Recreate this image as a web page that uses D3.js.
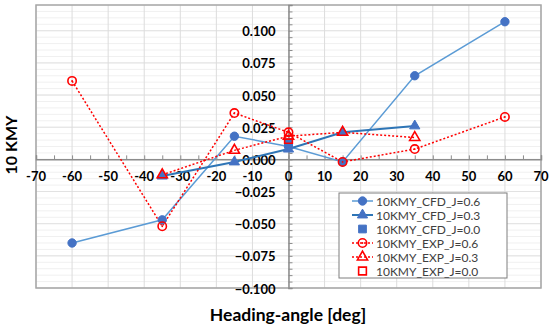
<!DOCTYPE html>
<html>
<head>
<meta charset="utf-8">
<script src="https://cdn.jsdelivr.net/npm/d3@7"></script>
<style>
  body { margin: 0; background: #fff; }
  svg { display: block; font-family: Lato, "Open Sans", sans-serif; }
</style>
</head>
<body>
<svg id="chart"></svg>
<script>
// heading angles used by each series
const anglesFull = [-60, -35, -15, 0, 15, 35, 60];
const anglesShort = [-35, -15, 0, 15, 35];
const anglesZero = [0];

// 10 KMY values
const cfd06 = [-0.065, -0.047, 0.018, 0.010, -0.002, 0.065, 0.107];
const cfd03 = [-0.013, -0.002, 0.008, 0.021, 0.026];
const cfd00 = [0.013];
const exp06 = [0.061, -0.052, 0.036, 0.021, -0.002, 0.008, 0.033];
const exp03 = [-0.012, 0.007, 0.018, 0.021, 0.017];
const exp00 = [0.0155];

const xTicks = d3.range(-70, 71, 10);
const yTicks = d3.range(-0.1, 0.1001, 0.025);

const width = 550, height = 327;
const plot = { left: 36, top: 5, right: 541, bottom: 288 };

const svg = d3.select("#chart").attr("width", width).attr("height", height);

const x = d3.scaleLinear().domain([-70, 70]).range([plot.left, plot.right]);
const y = d3.scaleLinear().domain([-0.1, 0.12]).range([plot.bottom, plot.top]);

// gridlines
const grid = svg.append("g");
grid.selectAll(".minor")
  .data(d3.range(-0.1, 0.1201, 0.005))
  .enter().append("line")
  .attr("x1", plot.left).attr("x2", plot.right)
  .attr("y1", d => y(d)).attr("y2", d => y(d))
  .attr("stroke", "#f0f0f0").attr("stroke-width", 1);
grid.selectAll(".majorY")
  .data(yTicks)
  .enter().append("line")
  .attr("x1", plot.left).attr("x2", plot.right)
  .attr("y1", d => y(d)).attr("y2", d => y(d))
  .attr("stroke", "#e2e2e2").attr("stroke-width", 1);
grid.selectAll(".majorX")
  .data(xTicks)
  .enter().append("line")
  .attr("y1", plot.top).attr("y2", plot.bottom)
  .attr("x1", d => x(d)).attr("x2", d => x(d))
  .attr("stroke", "#dcdcdc").attr("stroke-width", 1);

// plot border
svg.append("rect")
  .attr("x", plot.left).attr("y", plot.top)
  .attr("width", plot.right - plot.left).attr("height", plot.bottom - plot.top)
  .attr("fill", "none").attr("stroke", "#a6a6a6").attr("stroke-width", 1.5);

// axes crossing at zero
const xAxis = svg.append("g")
  .attr("transform", `translate(0,${y(0)})`)
  .call(d3.axisTop(x).tickValues(d3.range(-70, 71, 5)).tickSize(4).tickFormat(""));
const yAxis = svg.append("g")
  .attr("transform", `translate(${x(0)},0)`)
  .call(d3.axisRight(y).tickValues(d3.range(-0.1, 0.1201, 0.005)).tickSize(4).tickFormat(""));
[xAxis, yAxis].forEach(a => {
  a.select(".domain").attr("stroke", "#8c8c8c").attr("stroke-width", 1.5);
  a.selectAll(".tick line").attr("stroke", "#8c8c8c");
});

// tick labels
svg.append("g").selectAll("text")
  .data(xTicks)
  .enter().append("text")
  .attr("x", d => x(d)).attr("y", y(0) + 22)
  .attr("text-anchor", "middle")
  .attr("font-size", 13).attr("font-weight", "bold").attr("fill", "#000")
  .text(d => d);
svg.append("g").selectAll("text")
  .data(yTicks)
  .enter().append("text")
  .attr("x", x(0) - 13).attr("y", d => y(d) + 5.5)
  .attr("text-anchor", "end")
  .attr("font-size", 13).attr("font-weight", "bold").attr("fill", "#000")
  .text(d => d3.format(".3f")(Math.abs(d) < 1e-9 ? 0 : d));

// axis titles
svg.append("text")
  .attr("transform", `translate(17,145) rotate(-90)`)
  .attr("text-anchor", "middle")
  .attr("font-size", 16).attr("font-weight", "bold")
  .text("10 KMY");
svg.append("text")
  .attr("x", 288).attr("y", 321)
  .attr("text-anchor", "middle")
  .attr("font-size", 17.5).attr("font-weight", "bold")
  .text("Heading-angle [deg]");

const blue = "#4472c4", red = "#ff0000";

const series = [
  { name: "10KMY_CFD_J=0.6", xs: anglesFull, ys: cfd06, line: "#5b9bd5", lw: 1.5, dash: null, marker: "circle", fill: blue, stroke: blue },
  { name: "10KMY_CFD_J=0.3", xs: anglesShort, ys: cfd03, line: "#2e75b6", lw: 2, dash: null, marker: "triangle", fill: blue, stroke: blue },
  { name: "10KMY_CFD_J=0.0", xs: anglesZero, ys: cfd00, line: null, marker: "square", fill: blue, stroke: blue },
  { name: "10KMY_EXP_J=0.6", xs: anglesFull, ys: exp06, line: red, lw: 1.5, dash: "2,2", marker: "circle", fill: "none", stroke: red },
  { name: "10KMY_EXP_J=0.3", xs: anglesShort, ys: exp03, line: red, lw: 1.5, dash: "2,2", marker: "triangle", fill: "none", stroke: red },
  { name: "10KMY_EXP_J=0.0", xs: anglesZero, ys: exp00, line: null, marker: "square", fill: "none", stroke: red }
];

const symbolType = { circle: d3.symbolCircle, triangle: d3.symbolTriangle, square: d3.symbolSquare };
const symbolSize = { circle: 55, triangle: 45, square: 60 };

function drawMarker(g, s, px, py) {
  g.append("path")
    .attr("d", d3.symbol().type(symbolType[s.marker]).size(symbolSize[s.marker])())
    .attr("transform", `translate(${px},${py})`)
    .attr("fill", s.fill).attr("stroke", s.stroke)
    .attr("stroke-width", s.fill === "none" ? 1.6 : 1);
  if (s.fill === "none" && s.marker === "circle") {
    g.append("circle").attr("cx", px).attr("cy", py).attr("r", 0.9).attr("fill", s.stroke);
  }
}

const lineGen = d3.line().x(d => x(d[0])).y(d => y(d[1]));
const marks = svg.append("g");
series.forEach(s => {
  const pts = s.xs.map((a, i) => [a, s.ys[i]]);
  if (s.line) {
    marks.append("path")
      .datum(pts)
      .attr("d", lineGen)
      .attr("fill", "none")
      .attr("stroke", s.line)
      .attr("stroke-width", s.lw)
      .attr("stroke-dasharray", s.dash);
  }
});
series.forEach(s => {
  s.xs.forEach((a, i) => drawMarker(marks, s, x(a), y(s.ys[i])));
});

// legend
const legend = svg.append("g").attr("transform", "translate(339,193)");
legend.append("rect")
  .attr("width", 168).attr("height", 85)
  .attr("fill", "#fff").attr("stroke", "#7f7f7f").attr("stroke-width", 1);
series.forEach((s, i) => {
  const ly = 8 + i * 14;
  if (s.line) {
    legend.append("line")
      .attr("x1", 13).attr("x2", 34).attr("y1", ly).attr("y2", ly)
      .attr("stroke", s.line).attr("stroke-width", s.lw)
      .attr("stroke-dasharray", s.dash);
  }
  drawMarker(legend, s, 23.5, ly);
  legend.append("text")
    .attr("x", 37).attr("y", ly + 4.5)
    .attr("font-size", 12).attr("fill", "#404040")
    .text(s.name);
});
</script>
</body>
</html>
